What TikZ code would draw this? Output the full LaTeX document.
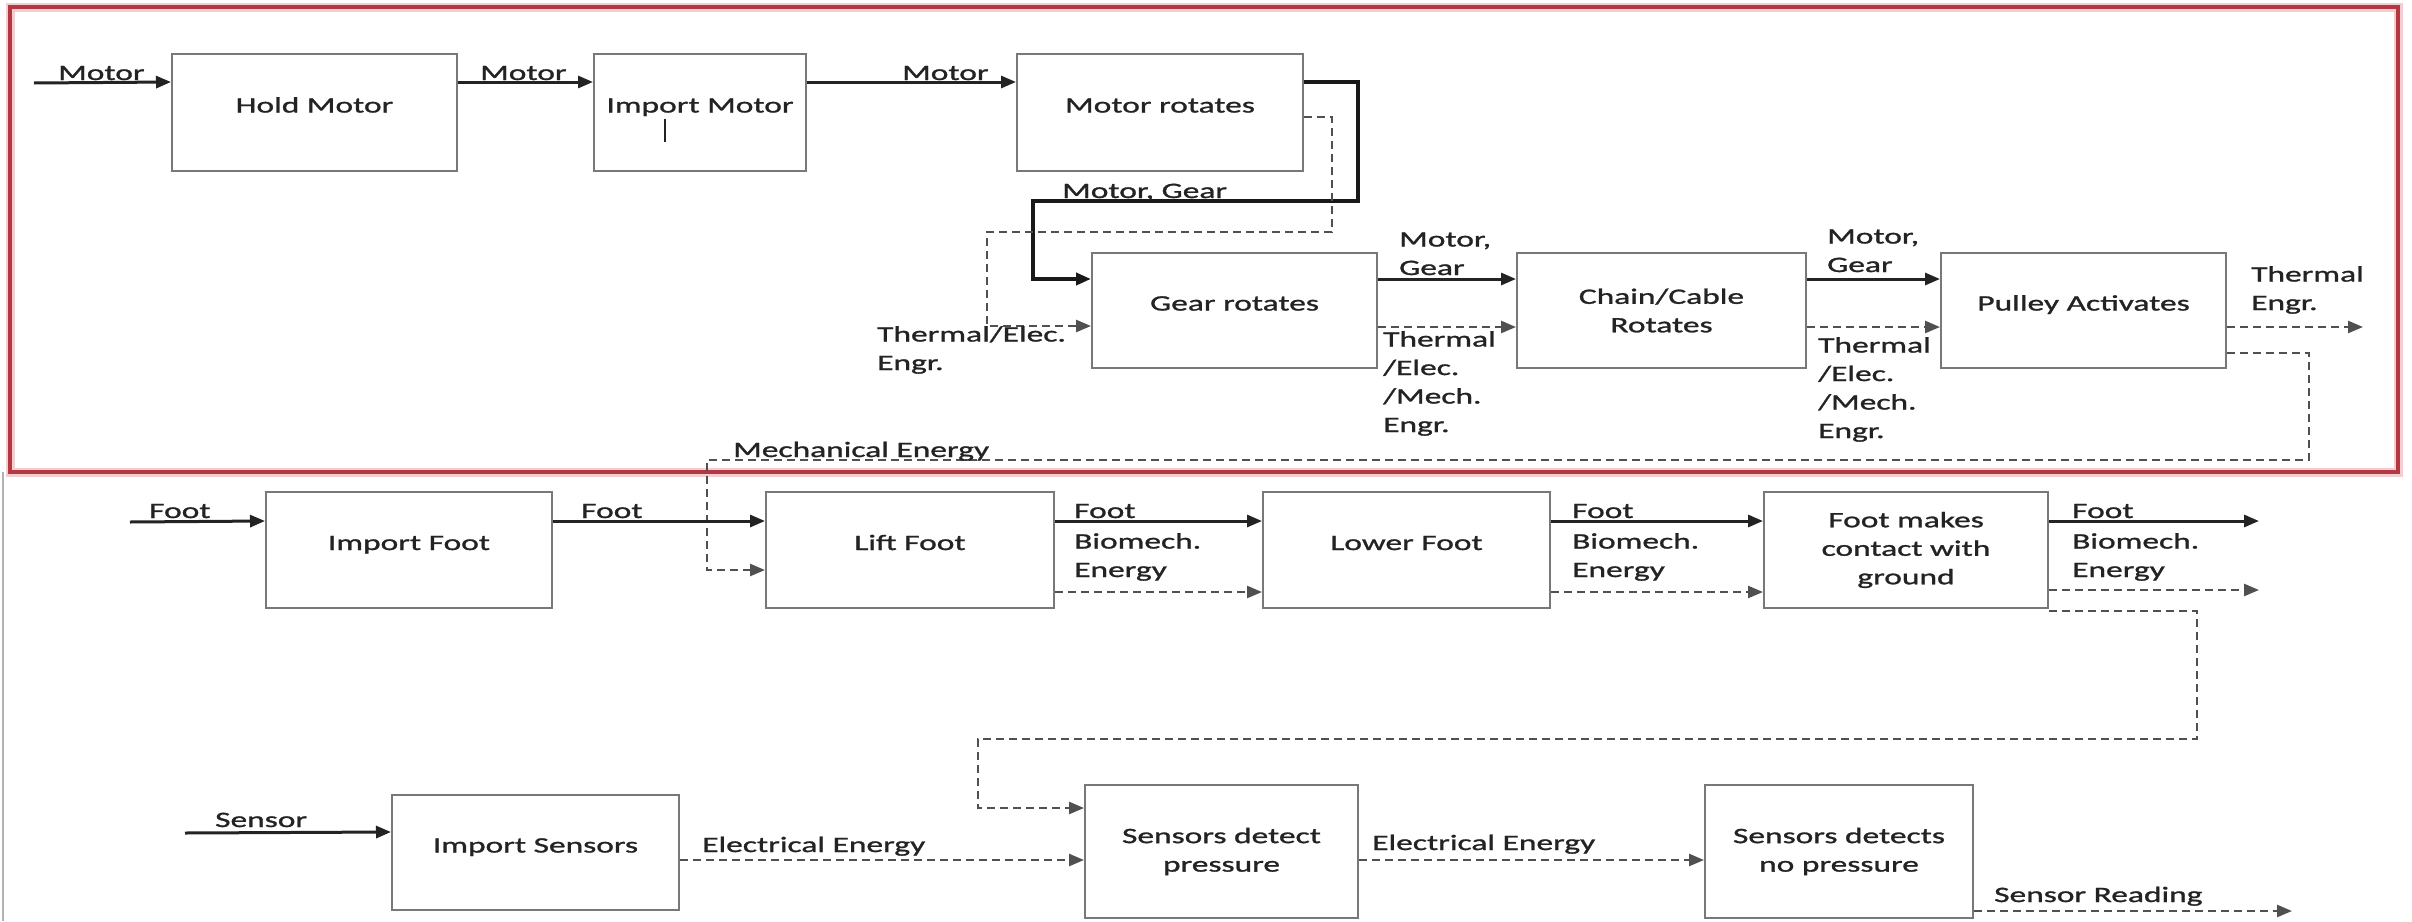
\documentclass[tikz,border=0pt]{standalone}
\usepackage{fontspec}
\setmainfont[FakeStretch=1.52,FakeBold=1.2]{Carlito}
\usetikzlibrary{arrows.meta,calc}
\definecolor{boxgray}{RGB}{120,120,120}
\definecolor{ink}{RGB}{35,35,35}
\definecolor{dashgray}{RGB}{80,80,80}
\definecolor{framered}{RGB}{180,55,65}
\definecolor{halo}{RGB}{242,205,210}
\begin{document}
\begin{tikzpicture}[x=1pt,y=-1pt,
  every node/.style={font=\fontsize{22}{28.5}\selectfont, text=ink, inner sep=0pt},
  box/.style={draw=boxgray, line width=2pt, align=center, fill=white},
  raisedtext/.style={text height=15pt, text depth=15pt},
  lbl/.style={anchor=base west, align=left},
  flow/.style={line width=3pt, draw=ink, -{Triangle[length=15pt,width=12pt]}},
  flowthick/.style={line width=4pt, draw=black!90, -{Triangle[length=15pt,width=12pt]}},
  energy/.style={line width=2.5pt, draw=dashgray, dash pattern=on 8pt off 5pt, -{Triangle[length=15pt,width=12pt]}}
]
\path[use as bounding box, fill=white] (0,0) rectangle (2412,921);
% page border and red frame
\draw[line width=2pt, black!30] (3,472) -- (3,921);
\draw[line width=9pt, halo] (10,7) rectangle (2398,472);
\draw[line width=3.5pt, framered] (10,7) rectangle (2398,472);

% boxes
\node[box, raisedtext, minimum width=285pt, minimum height=117pt] (hold) at (314.5,112.5) {Hold Motor};
\node[box, raisedtext, minimum width=212pt, minimum height=117pt] (imp) at (700,112.5) {Import Motor};
\node[box, raisedtext, minimum width=286pt, minimum height=117pt] (mrot) at (1160,112.5) {Motor rotates};
\node[box, raisedtext, minimum width=285pt, minimum height=115pt] (gear) at (1234.5,310.5) {Gear rotates};
\node[box, minimum width=289pt, minimum height=115pt] (chain) at (1661.5,310.5) {Chain/Cable\\Rotates};
\node[box, raisedtext, minimum width=285pt, minimum height=115pt] (pulley) at (2083.5,310.5) {Pulley Activates};
\node[box, raisedtext, minimum width=286pt, minimum height=116pt] (ifoot) at (409,550) {Import Foot};
\node[box, raisedtext, minimum width=288pt, minimum height=116pt] (lift) at (910,550) {Lift Foot};
\node[box, raisedtext, minimum width=287pt, minimum height=116pt] (lower) at (1406.5,550) {Lower Foot};
\node[box, minimum width=284pt, minimum height=116pt] (contact) at (1906,550) {Foot makes\\contact with\\ground};
\node[box, raisedtext, minimum width=287pt, minimum height=115pt] (isens) at (535.5,852.5) {Import Sensors};
\node[box, minimum width=273pt, minimum height=133pt] (spress) at (1221.5,851.5) {Sensors detect\\pressure};
\node[box, minimum width=268pt, minimum height=133pt] (snop) at (1839,851.5) {Sensors detects\\no pressure};

% text cursor mark inside Import Motor
\draw[line width=1.5pt, ink] ($(imp.north west)+(72,66)$) -- ++(0,23);

% free ends
\coordinate (min) at (34,83);
\coordinate (fin) at (130,522);
\coordinate (sin) at (185,833);
\coordinate (pout) at ($(pulley.north east)+(136,75)$);
\coordinate (cout1) at ($(contact.north east)+(210,30)$);
\coordinate (cout2) at ($(contact.north east)+(210,99)$);
\coordinate (sout) at ($(snop.south east)+(318,-8)$);

% row 1
\draw[flow] (min) -- ($(hold.north west)+(0,29)$);
\draw[flow] ($(hold.north east)+(0,29)$) -- ($(imp.north west)+(0,29)$);
\draw[flow] ($(imp.north east)+(0,29)$) -- ($(mrot.north west)+(0,29)$);
\draw[flowthick] ($(mrot.north east)+(0,29)$) -- ++(54,0) -- ++(0,119) -| ($(gear.north west)+(-58,27)$) -- ($(gear.north west)+(0,27)$);
\draw[energy] ($(mrot.north east)+(0,64)$) -- ++(28,0) -- ++(0,115) -| ($(gear.north west)+(-104,74)$) -- ($(gear.north west)+(0,74)$);

% row 2
\draw[flow] ($(gear.north east)+(0,27)$) -- ($(chain.north west)+(0,27)$);
\draw[energy] ($(gear.north east)+(0,75)$) -- ($(chain.north west)+(0,75)$);
\draw[flow] ($(chain.north east)+(0,27)$) -- ($(pulley.north west)+(0,27)$);
\draw[energy] ($(chain.north east)+(0,75)$) -- ($(pulley.north west)+(0,75)$);
\draw[energy] ($(pulley.north east)+(0,75)$) -- (pout);
\draw[energy] ($(pulley.north east)+(0,101)$) -- ++(82,0) -- ++(0,107) -| ($(lift.north west)+(-58,79)$) -- ($(lift.north west)+(0,79)$);

% row 3
\draw[flow] (fin) -- ($(ifoot.north west)+(0,30)$);
\draw[flow] ($(ifoot.north east)+(0,30)$) -- ($(lift.north west)+(0,30)$);
\draw[flow] ($(lift.north east)+(0,30)$) -- ($(lower.north west)+(0,30)$);
\draw[energy] ($(lift.north east)+(0,101)$) -- ($(lower.north west)+(0,101)$);
\draw[flow] ($(lower.north east)+(0,30)$) -- ($(contact.north west)+(0,30)$);
\draw[energy] ($(lower.north east)+(0,101)$) -- ($(contact.north west)+(0,101)$);
\draw[flow] ($(contact.north east)+(0,30)$) -- (cout1);
\draw[energy] ($(contact.north east)+(0,99)$) -- (cout2);
\draw[energy] ($(contact.south east)+(0,2)$) -- ++(148,0) -- ++(0,128) -| ($(spress.north west)+(-106,24)$) -- ($(spress.north west)+(0,24)$);

% row 4
\draw[flow] (sin) -- ($(isens.north west)+(0,38)$);
\draw[energy] ($(isens.north east)+(0,66)$) -- ($(spress.north west)+(0,76)$);
\draw[energy] ($(spress.north east)+(0,76)$) -- ($(snop.north west)+(0,76)$);
\draw[energy] ($(snop.south east)+(0,-8)$) -- (sout);

% labels (anchor = baseline of the last line)
\node[lbl] (lm1) at (58,80) {Motor};
\node[lbl] (lm2) at (480,80) {Motor};
\node[lbl] (lm3) at (902,80) {Motor};
\node[lbl] (lmg) at (1062,198) {Motor, Gear};
\node[lbl] (lte) at (877,370) {Thermal/Elec.\\Engr.};
\node[lbl] (lgc1) at (1399,275) {Motor,\\Gear};
\node[lbl] (lgc2) at (1383,432) {Thermal\\/Elec.\\/Mech.\\Engr.};
\node[lbl] (lcp1) at (1827,272) {Motor,\\Gear};
\node[lbl] (lcp2) at (1818,438) {Thermal\\/Elec.\\/Mech.\\Engr.};
\node[lbl] (lpo) at (2251,310) {Thermal\\Engr.};
\node[lbl] (lmech) at (733,457) {Mechanical Energy};
\node[lbl] (lf0) at (149,518) {Foot};
\node[lbl] (lf1) at (581,518) {Foot};
\node[lbl] (lf2) at (1074,518) {Foot};
\node[lbl] (lb2) at (1074,577) {Biomech.\\Energy};
\node[lbl] (lf3) at (1572,518) {Foot};
\node[lbl] (lb3) at (1572,577) {Biomech.\\Energy};
\node[lbl] (lf4) at (2072,518) {Foot};
\node[lbl] (lb4) at (2072,577) {Biomech.\\Energy};
\node[lbl] (lsen) at (215,827) {Sensor};
\node[lbl] (le1) at (702,852) {Electrical Energy};
\node[lbl] (le2) at (1372,850) {Electrical Energy};
\node[lbl] (lsr) at (1994,902) {Sensor Reading};
\end{tikzpicture}
\end{document}
